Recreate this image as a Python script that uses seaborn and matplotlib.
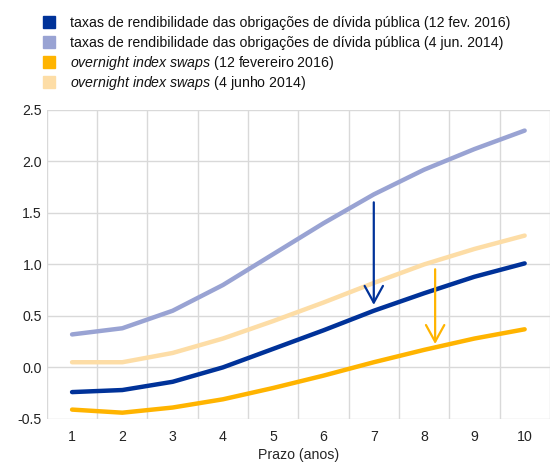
import numpy as np
import pandas as pd
import seaborn as sns
import matplotlib.pyplot as plt
from matplotlib.patches import Rectangle

# dados
prazo = [1, 2, 3, 4, 5, 6, 7, 8, 9, 10]
gov_2016 = [-0.24, -0.22, -0.14, 0.00, 0.18, 0.36, 0.55, 0.72, 0.88, 1.01]
gov_2014 = [0.32, 0.38, 0.55, 0.80, 1.10, 1.40, 1.68, 1.92, 2.12, 2.30]
ois_2016 = [-0.41, -0.44, -0.39, -0.31, -0.20, -0.08, 0.05, 0.17, 0.28, 0.37]
ois_2014 = [0.05, 0.05, 0.14, 0.28, 0.45, 0.63, 0.82, 1.00, 1.15, 1.28]

series = ['gov_2016', 'gov_2014', 'ois_2016', 'ois_2014']
labels = [
    'taxas de rendibilidade das obrigações de dívida pública (12 fev. 2016)',
    'taxas de rendibilidade das obrigações de dívida pública (4 jun. 2014)',
    r'$\mathit{overnight\ index\ swaps}$ (12 fevereiro 2016)',
    r'$\mathit{overnight\ index\ swaps}$ (4 junho 2014)',
]
cores = ['#003299', '#99A3D3', '#FFB400', '#FDDDA6']

df = pd.DataFrame({'prazo': prazo * 4,
                   'taxa': gov_2016 + gov_2014 + ois_2016 + ois_2014,
                   'serie': np.repeat(series, len(prazo))})

sns.set_style('whitegrid')
plt.rcParams['font.family'] = ['Liberation Sans', 'DejaVu Sans']
plt.rcParams['mathtext.fontset'] = 'custom'
plt.rcParams['mathtext.it'] = 'Liberation Sans:italic'
plt.rcParams['mathtext.rm'] = 'Liberation Sans'

W, H = 552, 468
fig = plt.figure(figsize=(W / 100, H / 100), dpi=100)
ax = fig.add_axes([0.085, 0.105, 0.911, 0.66])

# desenha de trás para a frente
ordem_desenho = ['gov_2014', 'ois_2014', 'gov_2016', 'ois_2016']
sns.lineplot(data=df, x='prazo', y='taxa', hue='serie', hue_order=ordem_desenho,
             palette=dict(zip(series, cores)), linewidth=3.2, legend=False, ax=ax,
             solid_capstyle='round')

# setas
seta = '->,head_length=0.4,head_width=0.22'
ax.annotate('', xy=(7, 0.58), xytext=(7, 1.63),
            arrowprops=dict(arrowstyle=seta, color='#003299', lw=1.6, mutation_scale=30))
ax.annotate('', xy=(8.22, 0.2), xytext=(8.22, 0.98),
            arrowprops=dict(arrowstyle=seta, color='#FFB400', lw=1.6, mutation_scale=30))

ax.set_xlim(0.5, 10.5)
ax.set_ylim(-0.5, 2.5)
ax.set_xticks(prazo)
ax.set_xticks(np.arange(0.5, 11, 1), minor=True)
ax.set_yticks(np.arange(-0.5, 2.51, 0.5))
ax.set_yticklabels(['-0.5', '0.0', '0.5', '1.0', '1.5', '2.0', '2.5'])
ax.grid(False)
ax.grid(True, which='minor', axis='x', color='#d9d9d9', lw=1)
ax.grid(True, which='major', axis='y', color='#d9d9d9', lw=1)
ax.tick_params(which='both', length=0)
ax.tick_params(labelsize=10.2, colors='#222222')
ax.tick_params(axis='x', pad=8)
for s in ax.spines.values():
    s.set_visible(False)
ax.set_xlabel('Prazo (anos)', fontsize=10.2, labelpad=3)
ax.set_ylabel('')

# legenda manual no topo
linhas_y = [22, 42, 62, 82]
for cor, texto, yp in zip(cores, labels, linhas_y):
    fig.patches.append(Rectangle((43 / W, 1 - (yp + 6) / H), 12 / W, 12 / H,
                                 color=cor, transform=fig.transFigure))
    fig.text(70 / W, 1 - (yp + 4.5) / H, texto, fontsize=10.2, va='baseline',
             color='#111111')

fig.savefig('out.png', dpi=100)
